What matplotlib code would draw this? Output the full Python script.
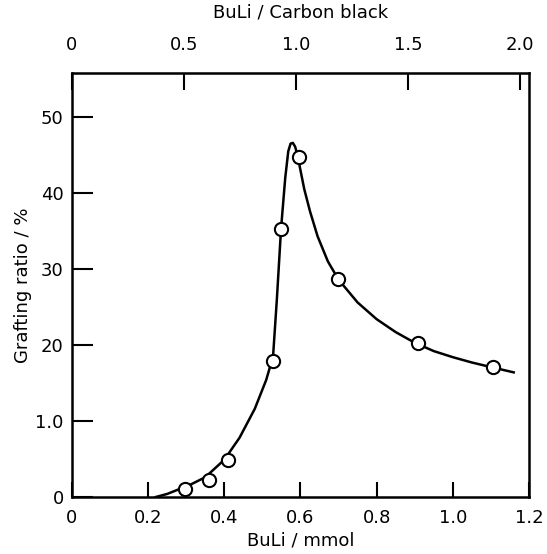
import matplotlib.pyplot as plt
import numpy as np

# measured points (BuLi mmol, grafting ratio %)
buli = [0.297, 0.36, 0.41, 0.528, 0.549, 0.596, 0.699, 0.909, 1.106]
graft = [1.05, 2.2, 4.9, 17.9, 35.3, 44.7, 28.7, 20.3, 17.1]

# hand drawn curve
curve_x = [0.22, 0.25, 0.28, 0.31, 0.35, 0.40, 0.44, 0.48, 0.51, 0.528, 0.538,
           0.549, 0.560, 0.568, 0.574, 0.580, 0.586, 0.592, 0.600, 0.610,
           0.625, 0.645, 0.672, 0.70, 0.75, 0.80, 0.85, 0.90, 0.95, 1.00,
           1.05, 1.10, 1.16]
curve_y = [0.0, 0.4, 1.0, 1.6, 2.6, 4.9, 7.8, 11.6, 15.4, 18.5, 26.0,
           35.3, 42.0, 45.5, 46.5, 46.6, 46.1, 45.0, 43.0, 40.5,
           37.6, 34.3, 31.0, 28.6, 25.6, 23.4, 21.7, 20.3, 19.2, 18.4,
           17.7, 17.1, 16.4]

y_ticks = [0, 10, 20, 30, 40, 50]
y_ticklabels = ["0", "1.0", "20", "30", "40", "50"]
x_ticks = [0, 0.2, 0.4, 0.6, 0.8, 1.0, 1.2]
x_ticklabels = ["0", "0.2", "0.4", "0.6", "0.8", "1.0", "1.2"]
top_ticks = [0, 0.5, 1.0, 1.5, 2.0]
top_ticklabels = ["0", "0.5", "1.0", "1.5", "2.0"]
ratio = 0.588  # mmol per unit BuLi/Carbon black

plt.rcParams['font.family'] = ['DejaVu Sans']

fig = plt.figure(figsize=(5.47, 5.54), dpi=100)
ax = fig.add_axes([0.1316, 0.1029, 0.8354, 0.7654])

ax.plot(curve_x, curve_y, color="black", linewidth=1.8, zorder=2)
ax.plot(buli, graft, linestyle="", marker="o", markersize=9.5,
        markerfacecolor="white", markeredgecolor="black",
        markeredgewidth=1.5, zorder=3)

ax.set_xlim(0, 1.2)
ax.set_ylim(0, 55.8)

ax.set_xticks(x_ticks)
ax.set_xticklabels(x_ticklabels)
ax.set_yticks(y_ticks)
ax.set_yticklabels(y_ticklabels)
ax.tick_params(direction="in", length=11, width=1.5, labelsize=13, pad=9)
ax.tick_params(axis="y", length=15, pad=6)

for s in ax.spines.values():
    s.set_linewidth(1.8)

ax.set_xlabel("BuLi / mmol", fontsize=13, labelpad=3)
ax.set_ylabel("Grafting ratio / %", fontsize=13, labelpad=2)

top = ax.secondary_xaxis("top", functions=(lambda x: x / ratio, lambda x: x * ratio))
top.set_xticks(top_ticks)
top.set_xticklabels(top_ticklabels)
top.tick_params(direction="in", length=12, width=1.5, labelsize=13, pad=14)
top.set_xlabel("BuLi / Carbon black", fontsize=13, labelpad=13)

fig.savefig("out.png", dpi=100)
